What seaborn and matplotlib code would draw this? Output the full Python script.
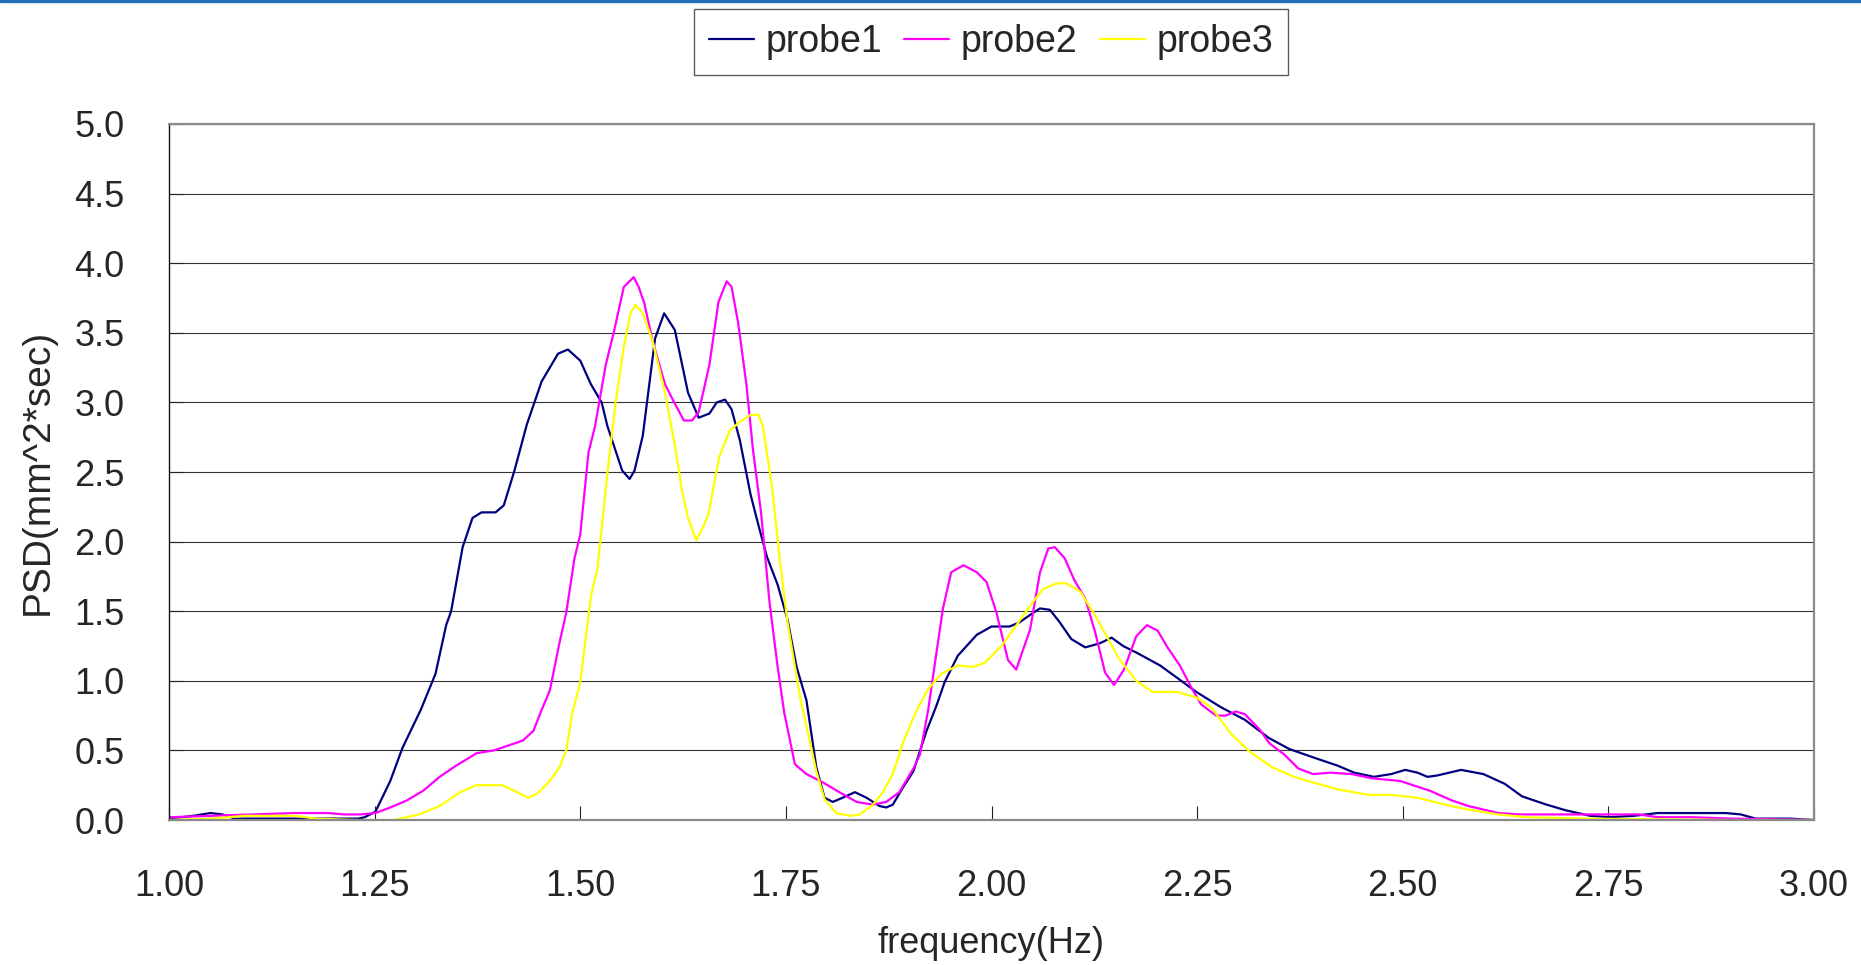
import matplotlib
matplotlib.use("Agg")
import matplotlib.pyplot as plt
import numpy as np
import pandas as pd
import seaborn as sns
from matplotlib.patches import Rectangle

# values
probe1_freq = [1.000, 1.030, 1.050, 1.065, 1.080, 1.150, 1.230, 1.238, 1.251, 1.269,
               1.284, 1.306, 1.324, 1.337, 1.343, 1.357, 1.369, 1.380, 1.397, 1.407,
               1.420, 1.435, 1.453, 1.473, 1.485, 1.500, 1.513, 1.526, 1.533, 1.551,
               1.560, 1.566, 1.576, 1.591, 1.602, 1.615, 1.631, 1.644, 1.657, 1.666,
               1.676, 1.684, 1.694, 1.707, 1.717, 1.727, 1.740, 1.752, 1.763, 1.775,
               1.787, 1.797, 1.807, 1.819, 1.834, 1.848, 1.864, 1.872, 1.880, 1.892,
               1.905, 1.921, 1.933, 1.943, 1.959, 1.982, 2.000, 2.022, 2.034, 2.051,
               2.059, 2.071, 2.083, 2.097, 2.114, 2.132, 2.146, 2.160, 2.177, 2.205,
               2.226, 2.249, 2.279, 2.308, 2.337, 2.362, 2.391, 2.421, 2.441, 2.465,
               2.486, 2.503, 2.518, 2.530, 2.542, 2.571, 2.598, 2.624, 2.645, 2.675,
               2.698, 2.728, 2.751, 2.781, 2.810, 2.893, 2.911, 2.929, 2.970, 3.000]
probe1_psd = [0.01, 0.03, 0.05, 0.04, 0.01, 0.01, 0.01, 0.02, 0.06, 0.28,
              0.52, 0.79, 1.05, 1.40, 1.50, 1.96, 2.17, 2.21, 2.21, 2.26,
              2.51, 2.84, 3.15, 3.35, 3.38, 3.30, 3.13, 3.00, 2.83, 2.51,
              2.45, 2.51, 2.76, 3.46, 3.64, 3.52, 3.07, 2.89, 2.92, 3.00,
              3.02, 2.95, 2.73, 2.34, 2.11, 1.89, 1.69, 1.44, 1.10, 0.86,
              0.38, 0.16, 0.13, 0.16, 0.20, 0.16, 0.10, 0.09, 0.11, 0.23,
              0.35, 0.64, 0.82, 0.99, 1.18, 1.33, 1.39, 1.39, 1.42, 1.49,
              1.52, 1.51, 1.42, 1.30, 1.24, 1.27, 1.31, 1.25, 1.20, 1.11,
              1.02, 0.92, 0.81, 0.72, 0.59, 0.51, 0.45, 0.39, 0.34, 0.31,
              0.33, 0.36, 0.34, 0.31, 0.32, 0.36, 0.33, 0.26, 0.17, 0.11,
              0.07, 0.03, 0.02, 0.03, 0.05, 0.05, 0.04, 0.01, 0.01, 0.00]

probe2_freq = [1.000, 1.052, 1.102, 1.153, 1.193, 1.213, 1.233, 1.251, 1.269, 1.289,
               1.309, 1.329, 1.349, 1.374, 1.395, 1.415, 1.430, 1.443, 1.453, 1.463,
               1.475, 1.483, 1.493, 1.500, 1.510, 1.518, 1.531, 1.541, 1.553, 1.565,
               1.571, 1.578, 1.588, 1.603, 1.616, 1.626, 1.636, 1.644, 1.657, 1.668,
               1.678, 1.684, 1.692, 1.702, 1.710, 1.720, 1.730, 1.740, 1.748, 1.761,
               1.775, 1.795, 1.815, 1.836, 1.856, 1.872, 1.888, 1.905, 1.913, 1.923,
               1.933, 1.941, 1.951, 1.966, 1.982, 1.994, 2.006, 2.020, 2.030, 2.047,
               2.059, 2.069, 2.077, 2.089, 2.101, 2.114, 2.126, 2.138, 2.149, 2.161,
               2.176, 2.189, 2.202, 2.214, 2.229, 2.244, 2.255, 2.273, 2.285, 2.297,
               2.308, 2.326, 2.338, 2.356, 2.373, 2.391, 2.412, 2.438, 2.462, 2.497,
               2.533, 2.560, 2.580, 2.616, 2.640, 2.787, 2.810, 2.852, 2.899, 3.000]
probe2_psd = [0.02, 0.03, 0.04, 0.05, 0.05, 0.04, 0.04, 0.05, 0.09, 0.14,
              0.21, 0.31, 0.39, 0.48, 0.50, 0.54, 0.57, 0.64, 0.79, 0.93,
              1.28, 1.49, 1.88, 2.05, 2.64, 2.83, 3.27, 3.51, 3.83, 3.90,
              3.83, 3.71, 3.44, 3.13, 2.98, 2.87, 2.87, 2.93, 3.27, 3.72,
              3.87, 3.83, 3.57, 3.13, 2.66, 2.20, 1.57, 1.10, 0.77, 0.40,
              0.33, 0.27, 0.20, 0.13, 0.11, 0.13, 0.20, 0.37, 0.47, 0.79,
              1.20, 1.52, 1.78, 1.83, 1.78, 1.71, 1.49, 1.15, 1.08, 1.37,
              1.78, 1.95, 1.96, 1.88, 1.72, 1.59, 1.35, 1.06, 0.97, 1.08,
              1.32, 1.40, 1.36, 1.24, 1.11, 0.94, 0.83, 0.75, 0.75, 0.78,
              0.76, 0.65, 0.55, 0.47, 0.37, 0.33, 0.34, 0.33, 0.30, 0.28,
              0.21, 0.14, 0.10, 0.05, 0.04, 0.04, 0.02, 0.02, 0.01, 0.00]

probe3_freq = [1.000, 1.052, 1.092, 1.153, 1.178, 1.228, 1.274, 1.304, 1.329, 1.354,
               1.374, 1.405, 1.420, 1.437, 1.448, 1.463, 1.475, 1.483, 1.490, 1.500,
               1.513, 1.521, 1.533, 1.543, 1.553, 1.561, 1.567, 1.576, 1.588, 1.603,
               1.616, 1.623, 1.631, 1.641, 1.649, 1.656, 1.669, 1.682, 1.694, 1.707,
               1.717, 1.722, 1.733, 1.743, 1.752, 1.767, 1.787, 1.797, 1.811, 1.828,
               1.840, 1.856, 1.868, 1.880, 1.892, 1.909, 1.923, 1.939, 1.959, 1.978,
               1.992, 2.012, 2.028, 2.047, 2.063, 2.079, 2.091, 2.108, 2.124, 2.140,
               2.155, 2.176, 2.196, 2.226, 2.249, 2.267, 2.291, 2.314, 2.341, 2.368,
               2.391, 2.421, 2.459, 2.486, 2.518, 2.545, 2.574, 2.616, 2.651, 2.722,
               2.899, 3.000]
probe3_psd = [0.00, 0.01, 0.03, 0.03, 0.01, 0.00, 0.00, 0.04, 0.10, 0.20,
              0.25, 0.25, 0.21, 0.16, 0.19, 0.28, 0.38, 0.50, 0.76, 0.99,
              1.61, 1.81, 2.49, 3.00, 3.40, 3.64, 3.70, 3.64, 3.44, 3.07,
              2.66, 2.39, 2.17, 2.01, 2.10, 2.20, 2.61, 2.80, 2.86, 2.91,
              2.91, 2.83, 2.40, 1.85, 1.42, 0.89, 0.35, 0.15, 0.05, 0.03,
              0.04, 0.11, 0.20, 0.33, 0.55, 0.79, 0.94, 1.05, 1.11, 1.10,
              1.13, 1.25, 1.38, 1.54, 1.66, 1.70, 1.70, 1.64, 1.49, 1.32,
              1.16, 1.00, 0.92, 0.92, 0.88, 0.81, 0.62, 0.49, 0.38, 0.31,
              0.27, 0.22, 0.18, 0.18, 0.16, 0.12, 0.08, 0.04, 0.02, 0.01,
              0.00, 0.00]

probe_names = ["probe1", "probe2", "probe3"]
probe_colors = {"probe1": "#000080", "probe2": "#FF00FF", "probe3": "#FFFF00"}
x_ticks = [1.00, 1.25, 1.50, 1.75, 2.00, 2.25, 2.50, 2.75, 3.00]
y_ticks = [0.0, 0.5, 1.0, 1.5, 2.0, 2.5, 3.0, 3.5, 4.0, 4.5, 5.0]

df = pd.concat([
    pd.DataFrame({"freq": f, "psd": v, "probe": name})
    for name, f, v in zip(probe_names,
                          [probe1_freq, probe2_freq, probe3_freq],
                          [probe1_psd, probe2_psd, probe3_psd])
], ignore_index=True)

sns.set_theme(style="white")
plt.rcParams["font.family"] = ["Liberation Sans", "DejaVu Sans"]

fig = plt.figure(figsize=(18.61, 9.65), dpi=100)
ax = fig.add_axes([169 / 1861, 1 - 820 / 965, (1814 - 169) / 1861, (820 - 124) / 965])

sns.lineplot(data=df, x="freq", y="psd", hue="probe", palette=probe_colors,
             hue_order=probe_names, estimator=None, sort=False,
             linewidth=1.6, ax=ax)

ax.set_xlim(1.0, 3.0)
ax.set_ylim(0.0, 5.0)
ax.set_xticks(x_ticks)
ax.set_xticklabels([f"{t:.2f}" for t in x_ticks])
ax.set_yticks(y_ticks)
ax.set_yticklabels([f"{t:.1f}" for t in y_ticks])
ax.yaxis.grid(True, color="#333333", linewidth=0.8)
ax.xaxis.grid(False)
ax.set_axisbelow(True)

ax.tick_params(axis="both", which="both", direction="in", length=10, width=0.8,
               color="#222222", labelsize=26, left=True, bottom=True)
ax.tick_params(axis="y", pad=32)
ax.tick_params(axis="x", pad=35)

for side in ["top", "right", "bottom"]:
    ax.spines[side].set_color("#8a8a8a")
    ax.spines[side].set_linewidth(1.6)
ax.spines["left"].set_color("#111111")
ax.spines["left"].set_linewidth(1.0)

ax.set_xlabel("frequency(Hz)", fontsize=26, labelpad=16)
ax.set_ylabel("PSD(mm^2*sec)", fontsize=28, labelpad=13)

ax.legend_.remove()
handles = ax.get_lines()[:3]
leg = fig.legend(handles, probe_names, loc="upper center",
                 bbox_to_anchor=(991 / 1861, 1 - 9 / 965), ncol=3,
                 fontsize=27, frameon=True, fancybox=False, borderaxespad=0,
                 handlelength=1.2, handletextpad=0.3, columnspacing=0.6,
                 borderpad=0.4)
leg.get_frame().set_edgecolor("#333333")
leg.get_frame().set_linewidth(1.0)
for line in leg.get_lines():
    line.set_linewidth(1.6)

# thin blue strip along the top edge of the screenshot
fig.patches.append(Rectangle((0, 1 - 2 / 965), 1, 2 / 965, transform=fig.transFigure,
                             color="#1f6fb5", zorder=5))

fig.savefig("out.png", dpi=100)
